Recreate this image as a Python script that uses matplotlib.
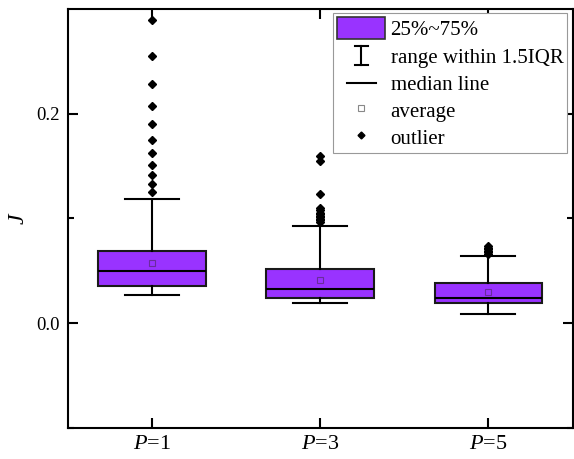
import matplotlib
matplotlib.use("Agg")
import matplotlib.pyplot as plt
import numpy as np
from matplotlib.patches import Patch
from matplotlib.lines import Line2D
from matplotlib.legend_handler import HandlerBase

# box statistics
labels = ["$P$=1", "$P$=3", "$P$=5"]
q1 = [0.0354, 0.0236, 0.0194]
q3 = [0.0692, 0.0520, 0.0380]
medians = [0.0498, 0.0325, 0.0239]
means = [0.0571, 0.0414, 0.0300]
whislo = [0.0271, 0.0194, 0.0089]
whishi = [0.1187, 0.0931, 0.0644]
outliers_p1 = [0.2896, 0.2552, 0.2284, 0.2070, 0.1902, 0.1749, 0.1624,
               0.1512, 0.1410, 0.1330, 0.1251]
outliers_p3 = [0.1592, 0.1550, 0.1228, 0.1098, 0.1075, 0.1055, 0.1040,
               0.1025, 0.1010, 0.0995, 0.0980, 0.0965]
outliers_p5 = [0.0737, 0.0720, 0.0705, 0.0690, 0.0675, 0.0660]
fliers = [outliers_p1, outliers_p3, outliers_p5]

plt.rcParams.update({
    'font.family': 'Liberation Serif',
    'font.size': 12,
    'mathtext.fontset': 'custom',
    'mathtext.it': 'Liberation Serif:italic',
    'mathtext.rm': 'Liberation Serif',
})

purple = '#9933FF'

stats = []
for i in range(3):
    stats.append(dict(q1=q1[i], q3=q3[i], med=medians[i], mean=means[i],
                      whislo=whislo[i], whishi=whishi[i], fliers=fliers[i]))

fig = plt.figure(figsize=(5.74, 4.59), dpi=100)
# axes box: x 67.7..572.5 px, y 9..427.7 px
ax = fig.add_axes([67.7 / 574, 1 - 427.7 / 459, (572.5 - 67.7) / 574,
                   (427.7 - 9) / 459])

ax.bxp(stats, positions=[1, 2, 3], widths=0.64, patch_artist=True,
       showmeans=True,
       boxprops=dict(facecolor=purple, edgecolor='#1a1a1a', linewidth=1.5),
       medianprops=dict(color='black', linewidth=1.5),
       whiskerprops=dict(color='black', linewidth=1.5),
       capprops=dict(color='black', linewidth=1.5),
       capwidths=0.32,
       meanprops=dict(marker='s', markersize=4, markerfacecolor='none',
                      markeredgecolor='#6a2c9c', markeredgewidth=0.8),
       flierprops=dict(marker='D', markersize=4, markerfacecolor='black',
                       markeredgecolor='black'))

ax.set_xlim(0.5, 3.5)
ax.set_ylim(-0.1, 0.3)
ax.set_xticks([1, 2, 3])
ax.set_xticklabels(labels, fontsize=16)
ax.set_yticks([0.0, 0.2])
ax.set_yticklabels(['0.0', '0.2'], fontsize=13.5)
ax.set_yticks([-0.1, 0.1], minor=True)
ax.tick_params(direction='in', length=7, width=1.5, top=True, right=True)
ax.tick_params(which='minor', direction='in', length=4, width=1.5, right=True)
ax.tick_params(axis='x', pad=5)
ax.tick_params(axis='y', pad=6)
for s in ax.spines.values():
    s.set_linewidth(1.5)
ax.set_ylabel('$J$', fontsize=17, labelpad=5)


class HandlerI(HandlerBase):
    # whisker-range symbol: vertical bar with caps
    def create_artists(self, legend, orig_handle, xdescent, ydescent,
                       width, height, fontsize, trans):
        cx = width / 2 - xdescent
        h = height * 0.9
        y0 = -ydescent + (height - h) / 2
        y1 = y0 + h
        w = width * 0.14
        arts = [Line2D([cx, cx], [y0, y1]),
                Line2D([cx - w, cx + w], [y0, y0]),
                Line2D([cx - w, cx + w], [y1, y1])]
        for a in arts:
            a.set_color('black')
            a.set_linewidth(1.5)
            a.set_transform(trans)
        return arts


class HandlerShortLine(HandlerBase):
    def create_artists(self, legend, orig_handle, xdescent, ydescent,
                       width, height, fontsize, trans):
        cx = width / 2 - xdescent
        cy = height / 2 - ydescent
        w = width * 0.3
        ln = Line2D([cx - w, cx + w], [cy, cy], color='black', linewidth=1.5)
        ln.set_transform(trans)
        return [ln]


h_box = Patch(facecolor=purple, edgecolor='#333333', linewidth=1.2)
h_range = object()
h_med = object()
h_mean = Line2D([], [], linestyle='none', marker='s', markersize=4,
                markerfacecolor='none', markeredgecolor='#888888',
                markeredgewidth=0.8)
h_out = Line2D([], [], linestyle='none', marker='D', markersize=3.5,
               markerfacecolor='black', markeredgecolor='black')

leg = ax.legend([h_box, h_range, h_med, h_mean, h_out],
                ['25%~75%', 'range within 1.5IQR', 'median line', 'average',
                 'outlier'],
                handler_map={h_range: HandlerI(), h_med: HandlerShortLine()},
                loc='upper right', bbox_to_anchor=(0.990, 0.990),
                fontsize=15, handlelength=2.3, handleheight=1.25,
                labelspacing=0.2, handletextpad=0.25, borderpad=0.2,
                borderaxespad=0, fancybox=False, framealpha=1,
                edgecolor='#999999')
leg.get_frame().set_linewidth(0.8)

fig.savefig('out.png', dpi=100)
